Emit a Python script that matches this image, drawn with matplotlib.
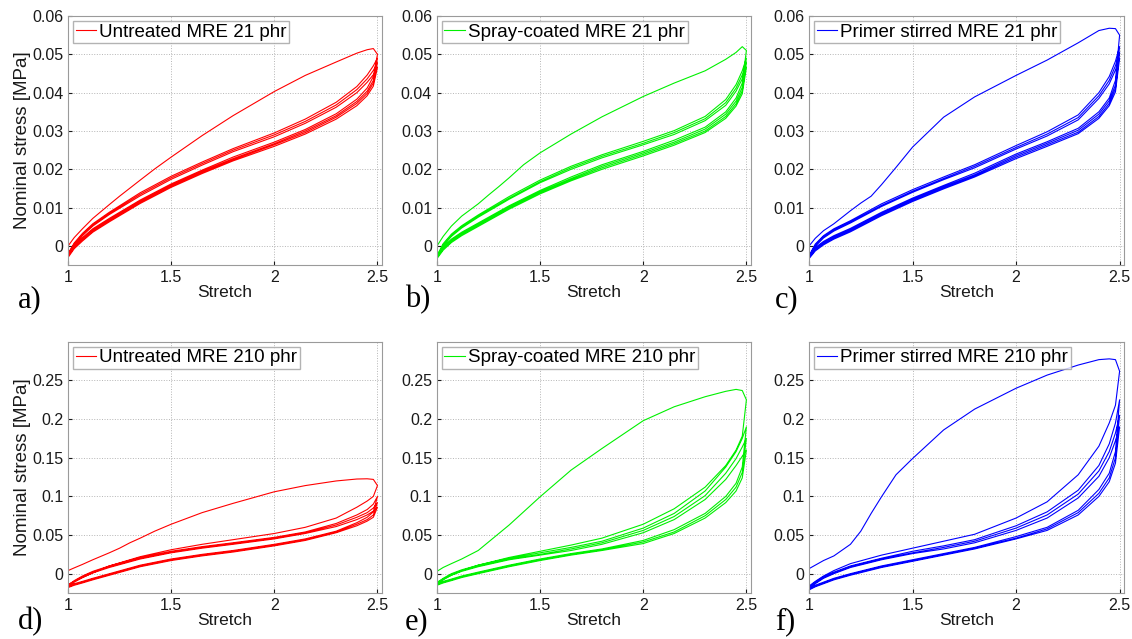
import numpy as np
import matplotlib
matplotlib.use("Agg")
import matplotlib.pyplot as plt

plt.rcParams['font.family'] = ['Liberation Sans', 'DejaVu Sans']

# stretch samples for the first (virgin) loading curves
stretch_first = [1.0, 1.03, 1.07, 1.12, 1.2, 1.25, 1.3, 1.35, 1.42, 1.5, 1.65, 1.8,
                 2.0, 2.15, 2.3, 2.4, 2.45, 2.48, 2.5]
# stretch samples for the later load / unload cycles
stretch = [1.0, 1.03, 1.07, 1.12, 1.2, 1.35, 1.5, 1.65, 1.8, 2.0, 2.15, 2.3, 2.4, 2.45, 2.48, 2.5]

# a) untreated 21 phr
a_first = [0.0, 0.0022, 0.0045, 0.0072, 0.0108, 0.0130, 0.0151, 0.0172, 0.0201, 0.0232, 0.0288,
           0.0340, 0.0403, 0.0445, 0.0480, 0.0503, 0.0512, 0.0515, 0.0500]
a_loads = [
    [-0.0020, 0.0008, 0.0033, 0.0058, 0.0088, 0.0139, 0.0182, 0.0219, 0.0254, 0.0295, 0.0331, 0.0375, 0.0416, 0.0446, 0.0470, 0.0490],
    [-0.0024, 0.0005, 0.0030, 0.0055, 0.0085, 0.0135, 0.0178, 0.0215, 0.0250, 0.0290, 0.0325, 0.0368, 0.0408, 0.0436, 0.0458, 0.0478],
    [-0.0028, 0.0002, 0.0027, 0.0052, 0.0082, 0.0131, 0.0174, 0.0211, 0.0246, 0.0285, 0.0320, 0.0362, 0.0400, 0.0427, 0.0447, 0.0466],
]
a_unloads = [
    [-0.0018, 0.0002, 0.0022, 0.0045, 0.0072, 0.0120, 0.0162, 0.0198, 0.0232, 0.0271, 0.0304, 0.0345, 0.0383, 0.0412, 0.0442, 0.0500],
    [-0.0022, -0.0001, 0.0019, 0.0042, 0.0069, 0.0117, 0.0159, 0.0195, 0.0228, 0.0267, 0.0300, 0.0340, 0.0377, 0.0404, 0.0432, 0.0490],
    [-0.0026, -0.0004, 0.0016, 0.0039, 0.0066, 0.0114, 0.0156, 0.0192, 0.0225, 0.0264, 0.0296, 0.0336, 0.0372, 0.0398, 0.0425, 0.0478],
    [-0.0030, -0.0007, 0.0013, 0.0036, 0.0063, 0.0111, 0.0153, 0.0189, 0.0222, 0.0260, 0.0292, 0.0331, 0.0366, 0.0392, 0.0417, 0.0466],
]

# b) spray-coated 21 phr
b_first = [0.0, 0.0025, 0.0052, 0.0078, 0.0110, 0.0133, 0.0155, 0.0178, 0.0212, 0.0243, 0.0292,
           0.0337, 0.0390, 0.0425, 0.0457, 0.0487, 0.0505, 0.0520, 0.0510]
b_loads = [
    [-0.0025, 0.0006, 0.0031, 0.0053, 0.0081, 0.0129, 0.0172, 0.0208, 0.0238, 0.0273, 0.0301, 0.0338, 0.0382, 0.0421, 0.0457, 0.0490],
    [-0.0028, 0.0003, 0.0028, 0.0050, 0.0078, 0.0125, 0.0168, 0.0204, 0.0234, 0.0268, 0.0296, 0.0332, 0.0374, 0.0412, 0.0446, 0.0478],
    [-0.0031, 0.0000, 0.0025, 0.0047, 0.0075, 0.0122, 0.0165, 0.0200, 0.0230, 0.0264, 0.0291, 0.0327, 0.0367, 0.0404, 0.0436, 0.0466],
]
b_unloads = [
    [-0.0024, -0.0002, 0.0018, 0.0036, 0.0060, 0.0105, 0.0145, 0.0180, 0.0212, 0.0247, 0.0276, 0.0310, 0.0350, 0.0386, 0.0425, 0.0510],
    [-0.0027, -0.0005, 0.0015, 0.0033, 0.0057, 0.0102, 0.0142, 0.0176, 0.0208, 0.0243, 0.0271, 0.0305, 0.0344, 0.0378, 0.0414, 0.0490],
    [-0.0030, -0.0008, 0.0012, 0.0030, 0.0054, 0.0099, 0.0139, 0.0173, 0.0204, 0.0239, 0.0267, 0.0300, 0.0338, 0.0371, 0.0405, 0.0478],
    [-0.0033, -0.0011, 0.0009, 0.0027, 0.0051, 0.0096, 0.0136, 0.0170, 0.0200, 0.0235, 0.0263, 0.0296, 0.0333, 0.0365, 0.0397, 0.0466],
]

# c) primer stirred 21 phr
c_first = [0.0, 0.0020, 0.0040, 0.0058, 0.0092, 0.0112, 0.0130, 0.0160, 0.0205, 0.0258, 0.0336,
           0.0389, 0.0445, 0.0485, 0.0530, 0.0562, 0.0568, 0.0567, 0.0550]
c_loads = [
    [-0.0025, 0.0005, 0.0027, 0.0045, 0.0066, 0.0110, 0.0147, 0.0180, 0.0212, 0.0262, 0.0298, 0.0342, 0.0400, 0.0442, 0.0482, 0.0520],
    [-0.0028, 0.0002, 0.0024, 0.0042, 0.0063, 0.0106, 0.0143, 0.0176, 0.0208, 0.0257, 0.0292, 0.0335, 0.0392, 0.0432, 0.0470, 0.0505],
    [-0.0031, -0.0001, 0.0021, 0.0039, 0.0060, 0.0103, 0.0140, 0.0173, 0.0204, 0.0253, 0.0287, 0.0329, 0.0385, 0.0423, 0.0459, 0.0490],
]
c_unloads = [
    [-0.0024, -0.0004, 0.0012, 0.0027, 0.0046, 0.0088, 0.0125, 0.0158, 0.0190, 0.0240, 0.0272, 0.0307, 0.0350, 0.0386, 0.0432, 0.0550],
    [-0.0027, -0.0007, 0.0009, 0.0024, 0.0043, 0.0085, 0.0122, 0.0155, 0.0186, 0.0236, 0.0268, 0.0302, 0.0344, 0.0379, 0.0420, 0.0520],
    [-0.0030, -0.0010, 0.0006, 0.0021, 0.0040, 0.0082, 0.0119, 0.0152, 0.0183, 0.0232, 0.0264, 0.0297, 0.0338, 0.0372, 0.0411, 0.0505],
    [-0.0033, -0.0013, 0.0003, 0.0018, 0.0037, 0.0079, 0.0116, 0.0149, 0.0180, 0.0228, 0.0260, 0.0293, 0.0333, 0.0366, 0.0402, 0.0490],
]

# d) untreated 210 phr
d_first = [0.004, 0.0075, 0.012, 0.018, 0.027, 0.033, 0.040, 0.046, 0.055, 0.064, 0.079,
           0.091, 0.106, 0.114, 0.120, 0.1225, 0.1228, 0.122, 0.114]
d_loads = [
    [-0.015, -0.009, -0.003, 0.003, 0.010, 0.021, 0.029, 0.035, 0.040, 0.047, 0.054, 0.065, 0.076, 0.083, 0.090, 0.100],
    [-0.016, -0.010, -0.004, 0.002, 0.009, 0.020, 0.028, 0.034, 0.039, 0.046, 0.053, 0.063, 0.073, 0.079, 0.085, 0.092],
    [-0.017, -0.011, -0.005, 0.001, 0.008, 0.019, 0.027, 0.033, 0.038, 0.045, 0.052, 0.061, 0.070, 0.076, 0.081, 0.086],
]
d_unloads = [
    [-0.014, -0.010, -0.005, 0.001, 0.010, 0.022, 0.031, 0.038, 0.044, 0.052, 0.060, 0.072, 0.086, 0.094, 0.100, 0.114],
    [-0.016, -0.013, -0.010, -0.006, 0.000, 0.011, 0.019, 0.025, 0.030, 0.038, 0.045, 0.055, 0.066, 0.073, 0.080, 0.100],
    [-0.017, -0.014, -0.011, -0.007, -0.001, 0.010, 0.018, 0.024, 0.029, 0.037, 0.044, 0.054, 0.064, 0.070, 0.076, 0.092],
    [-0.018, -0.015, -0.012, -0.008, -0.002, 0.009, 0.017, 0.023, 0.028, 0.036, 0.043, 0.053, 0.062, 0.068, 0.073, 0.086],
]

# e) spray-coated 210 phr
e_first = [0.003, 0.008, 0.013, 0.019, 0.030, 0.041, 0.052, 0.063, 0.080, 0.0995, 0.134,
           0.162, 0.198, 0.216, 0.229, 0.236, 0.2385, 0.237, 0.225]
e_loads = [
    [-0.012, -0.006, 0.000, 0.005, 0.011, 0.020, 0.027, 0.034, 0.042, 0.059, 0.078, 0.107, 0.138, 0.158, 0.175, 0.190],
    [-0.013, -0.007, -0.001, 0.004, 0.010, 0.019, 0.025, 0.032, 0.040, 0.056, 0.074, 0.101, 0.130, 0.149, 0.164, 0.175],
    [-0.014, -0.008, -0.002, 0.003, 0.009, 0.018, 0.024, 0.030, 0.038, 0.053, 0.070, 0.096, 0.122, 0.140, 0.152, 0.160],
]
e_unloads = [
    [-0.011, -0.007, -0.002, 0.004, 0.011, 0.021, 0.029, 0.037, 0.046, 0.064, 0.084, 0.112, 0.140, 0.160, 0.178, 0.225],
    [-0.013, -0.010, -0.007, -0.003, 0.002, 0.011, 0.019, 0.026, 0.032, 0.043, 0.057, 0.078, 0.100, 0.117, 0.138, 0.190],
    [-0.014, -0.011, -0.008, -0.004, 0.001, 0.010, 0.018, 0.025, 0.031, 0.041, 0.054, 0.075, 0.096, 0.112, 0.131, 0.175],
    [-0.015, -0.012, -0.009, -0.005, 0.000, 0.009, 0.017, 0.024, 0.030, 0.039, 0.052, 0.072, 0.092, 0.107, 0.124, 0.160],
]

# f) primer stirred 210 phr
f_first = [0.0065, 0.011, 0.017, 0.023, 0.038, 0.055, 0.078, 0.0995, 0.128, 0.149, 0.186,
           0.213, 0.240, 0.257, 0.270, 0.277, 0.278, 0.277, 0.262]
f_loads = [
    [-0.018, -0.011, -0.004, 0.002, 0.010, 0.020, 0.029, 0.036, 0.044, 0.062, 0.080, 0.108, 0.140, 0.168, 0.195, 0.225],
    [-0.019, -0.012, -0.005, 0.001, 0.009, 0.019, 0.027, 0.034, 0.042, 0.059, 0.076, 0.103, 0.133, 0.158, 0.182, 0.205],
    [-0.020, -0.013, -0.006, 0.000, 0.008, 0.018, 0.026, 0.032, 0.040, 0.056, 0.072, 0.098, 0.126, 0.150, 0.172, 0.190],
]
f_unloads = [
    [-0.016, -0.010, -0.003, 0.004, 0.013, 0.024, 0.033, 0.042, 0.051, 0.072, 0.093, 0.128, 0.165, 0.195, 0.218, 0.262],
    [-0.019, -0.015, -0.011, -0.006, 0.000, 0.010, 0.018, 0.026, 0.034, 0.048, 0.060, 0.082, 0.109, 0.130, 0.158, 0.225],
    [-0.020, -0.016, -0.012, -0.007, -0.001, 0.009, 0.017, 0.025, 0.033, 0.046, 0.058, 0.079, 0.104, 0.124, 0.150, 0.205],
    [-0.021, -0.017, -0.013, -0.008, -0.002, 0.008, 0.016, 0.024, 0.032, 0.045, 0.056, 0.076, 0.100, 0.119, 0.143, 0.190],
]

labels = ['Untreated MRE 21 phr', 'Spray-coated MRE 21 phr', 'Primer stirred MRE 21 phr',
          'Untreated MRE 210 phr', 'Spray-coated MRE 210 phr', 'Primer stirred MRE 210 phr']
letters = ['a)', 'b)', 'c)', 'd)', 'e)', 'f)']
colors = ['#ff0000', '#00f000', '#0000ff'] * 2
firsts = [a_first, b_first, c_first, d_first, e_first, f_first]
loads = [a_loads, b_loads, c_loads, d_loads, e_loads, f_loads]
unloads = [a_unloads, b_unloads, c_unloads, d_unloads, e_unloads, f_unloads]


def cycle_path(first, lds, unls):
    # first load, then unload / reload alternately
    s = np.array(stretch)
    xs, ys = [np.array(stretch_first)], [np.array(first)]
    for k, u in enumerate(unls):
        xs.append(s[::-1]); ys.append(np.array(u)[::-1])
        if k < len(lds):
            xs.append(s); ys.append(np.array(lds[k]))
    return np.concatenate(xs), np.concatenate(ys)


fig = plt.figure(figsize=(11.32, 6.39), dpi=100)
lefts = [0.0601, 0.3860, 0.7147]
widths = [0.277, 0.277, 0.278]
rows = [(0.585, 0.390), (0.072, 0.393)]
letter_x = [0.0159, 0.3578, 0.6846]
letter_y = [0.5305, 0.0266]

for i in range(6):
    r, c = divmod(i, 3)
    ax = fig.add_axes([lefts[c], rows[r][0], widths[c], rows[r][1]])
    x, y = cycle_path(firsts[i], loads[i], unloads[i])
    ax.plot(x, y, color=colors[i], lw=0.8, label=labels[i])
    ax.set_xlim(1, 2.52)
    ax.set_xticks([1, 1.5, 2, 2.5])
    ax.set_xticklabels(['1', '1.5', '2', '2.5'])
    if r == 0:
        ax.set_ylim(-0.005, 0.06)
        ax.set_yticks([0, 0.01, 0.02, 0.03, 0.04, 0.05, 0.06])
        ax.set_yticklabels(['0', '0.01', '0.02', '0.03', '0.04', '0.05', '0.06'])
    else:
        ax.set_ylim(-0.025, 0.3)
        ax.set_yticks([0, 0.05, 0.1, 0.15, 0.2, 0.25])
        ax.set_yticklabels(['0', '0.05', '0.1', '0.15', '0.2', '0.25'])
    ax.grid(True, ls=':', color='#b5b5b5', lw=0.7)
    ax.tick_params(direction='in', length=3, labelsize=11.5, colors='#1a1a1a', pad=3.5)
    for sp in ax.spines.values():
        sp.set_color('#9a9a9a')
    ax.set_xlabel('Stretch', fontsize=12.5, labelpad=0, color='#1a1a1a')
    if c == 0:
        ax.set_ylabel('Nominal stress [MPa]', fontsize=13.5, labelpad=1, color='#1a1a1a')
    leg = ax.legend(loc='upper left', fontsize=13.5, handlelength=1.1, fancybox=False,
                    borderaxespad=0.25, borderpad=0.15, handletextpad=0.15)
    leg.get_frame().set_edgecolor('#a0a0a0')
    leg.get_frame().set_linewidth(1.0)
    # panel letter in serif
    fig.text(letter_x[c], letter_y[r], letters[i], fontsize=22,
             family=['Liberation Serif', 'DejaVu Serif'], va='center', ha='left')

fig.savefig('out.png', dpi=100)
